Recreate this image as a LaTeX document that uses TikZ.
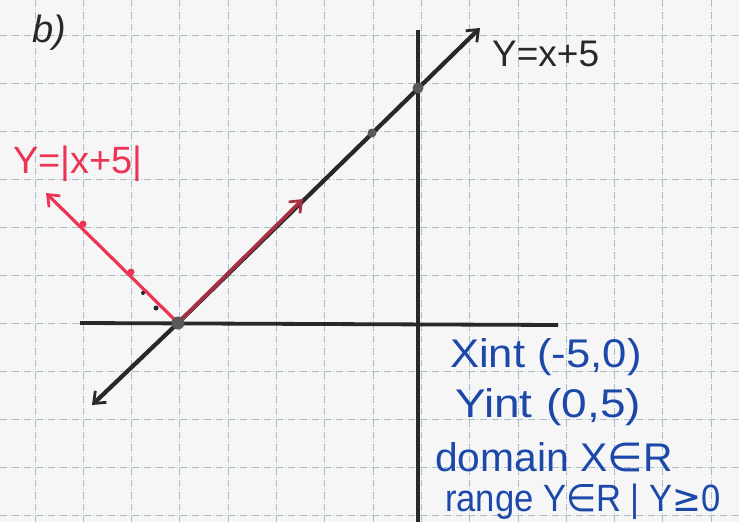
\documentclass[tikz,border=0pt]{standalone}
\usepackage{fontspec}
\setmainfont{Liberation Sans}
\newfontfamily\symfont{DejaVu Sans}
\usetikzlibrary{arrows.meta}
\definecolor{paper}{RGB}{246,246,246}
\definecolor{gridc}{RGB}{170,190,202}
\definecolor{ink}{RGB}{40,40,40}
\definecolor{redink}{RGB}{236,52,84}
\definecolor{blueink}{RGB}{28,72,170}
\tikzset{
  gridline/.style={gridc, line width=1pt, dash pattern=on 7pt off 2pt on 1pt off 2pt},
  axisline/.style={ink, line width=3.8pt},
  blkline/.style={ink, line width=4.2pt},
  redline/.style={redink, line width=3.2pt},
  barb/.style={-{Straight Barb[length=10pt,width=16pt,line width=2.8pt]}},
  bdot/.style={circle, fill=gray!70!black, inner sep=0pt, minimum size=#1},
  rdot/.style={circle, fill=redink, inner sep=0pt, minimum size=7pt},
  hand/.style={inner sep=0pt, anchor=west},
}
\begin{document}
\begin{tikzpicture}[x=1pt,y=-1pt]
\fill[paper] (0,0) rectangle (739,522);
\useasboundingbox (0,0) rectangle (739,522);
% grid
\foreach \i in {0,...,14} {
  \draw[gridline] ({35+48.3*\i},0) -- ({35+48.3*\i},522);
}
\foreach \j in {-6,...,4} {
  \draw[gridline] (0,{323+48*\j}) -- (739,{323+48*\j});
}
% axes
\coordinate (XL) at (80,323);
\coordinate (XR) at (558,325);
\coordinate (YT) at (418,30);
\coordinate (YB) at (418,522);
\draw[axisline] (XL) -- (XR);
\draw[axisline] (YT) -- (YB);
% y = x+5
\coordinate (VC) at (178,323);
\coordinate (BL) at (92,405);
\coordinate (TR) at (480,28);
\draw[blkline, barb] (VC) -- (BL);
\draw[blkline, barb] (VC) -- (TR);
% y = |x+5|
\coordinate (RL) at (46,193);
\coordinate (RR) at (303,199);
\draw[redline, barb] (VC) -- (RL);
\draw[redline, barb, draw=redink!65!ink, line width=3.6pt] (VC) -- (RR);
% points
\node[bdot=13pt] (V) at (VC) {};
\node[bdot=11pt] (YI) at (418,88) {};
\node[bdot=9pt] (P4) at (372,133) {};
\node[rdot] (R1) at (131,272) {};
\node[rdot] (R2) at (83,224) {};
% stray marks
\node[circle, fill=ink, inner sep=0pt, minimum size=4pt] (S1) at (143,293) {};
\node[circle, fill=ink, inner sep=0pt, minimum size=5pt] (S2) at (156,308) {};
% labels
\node[hand, ink, font=\fontsize{38}{42}\selectfont\itshape] (B) at (32,33) {b)};
\node[hand, redink, font=\fontsize{38}{42}\selectfont] (LR) at (13,164) {Y=|x+5|};
\node[hand, ink, font=\fontsize{37}{42}\selectfont] (LB) at (492,54) {Y=x+5};
\node[hand, blueink, font=\fontsize{40}{44}\selectfont] (T1) at (450,357) {\scalebox{1.09}[1]{Xint (-5,0)}};
\node[hand, blueink, font=\fontsize{40}{44}\selectfont] (T2) at (455,407) {\scalebox{1.15}[1]{Yint\hspace{12pt}(0,5)}};
\node[hand, blueink, font=\fontsize{40}{44}\selectfont] (T3) at (435,457) {\scalebox{1.02}[1]{domain X{\symfont∈}R}};
\node[hand, blueink, font=\fontsize{38}{44}\selectfont] (T4) at (445,502) {\scalebox{0.91}[1]{range Y{\symfont∈}R | Y{\symfont≥}0}};
\end{tikzpicture}
\end{document}
